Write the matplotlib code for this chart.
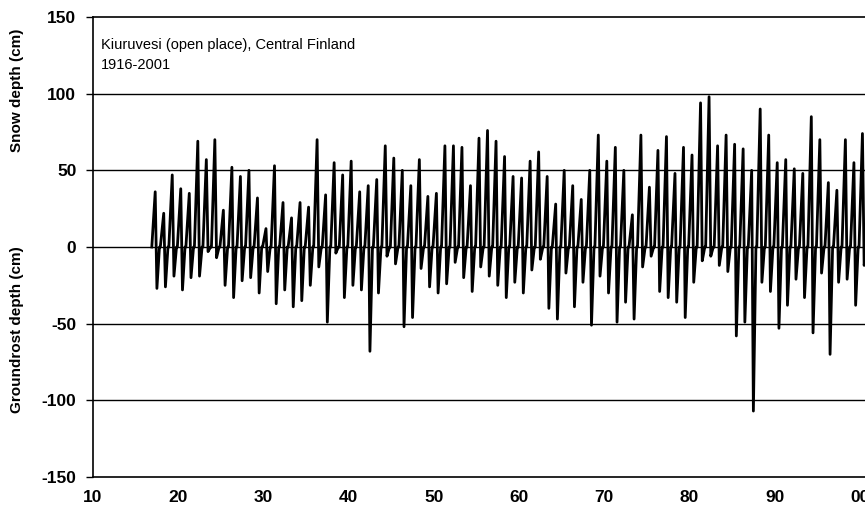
import matplotlib
matplotlib.use("Agg")
import matplotlib.pyplot as plt
import numpy as np

plt.rcParams['font.family'] = ['Liberation Sans', 'DejaVu Sans']
plt.rcParams['axes.unicode_minus'] = False

# winters 1916/17 ... 1999/2000, plotted at the spring year (two-digit axis, 100 = 2000)
years = list(range(17, 101))

# annual maximum snow depth (cm)
snow = [36, 22, 47, 38, 35, 69, 57, 70, 24, 52,
        46, 50, 32, 12, 53, 29, 19, 29, 26, 70,
        34, 55, 47, 56, 36, 40, 44, 66, 58, 50,
        40, 57, 33, 35, 66, 66, 65, 40, 71, 76,
        69, 59, 46, 45, 56, 62, 46, 28, 50, 40,
        31, 50, 73, 56, 65, 50, 21, 73, 39, 63,
        72, 48, 65, 60, 94, 98, 66, 73, 67, 64,
        50, 90, 73, 55, 57, 51, 48, 85, 70, 42,
        37, 70, 55, 74]

# annual maximum ground frost depth (cm)
frost = [27, 26, 19, 28, 20, 19, 3, 7, 25, 33,
         22, 20, 30, 16, 37, 28, 39, 35, 25, 13,
         49, 4, 33, 25, 28, 68, 30, 6, 11, 52,
         46, 14, 26, 30, 24, 10, 20, 29, 13, 19,
         25, 33, 23, 30, 15, 8, 40, 47, 17, 39,
         23, 51, 19, 30, 49, 36, 47, 13, 6, 29,
         33, 36, 46, 23, 9, 6, 12, 16, 58, 49,
         107, 23, 29, 53, 38, 21, 33, 56, 17, 70,
         23, 21, 38, 12]

# one season = rise to the snow maximum, drop to the frost maximum, back to zero
xs, ys = [], []
for yr, s, f in zip(years, snow, frost):
    xs += [yr - 0.1, yr + 0.3, yr + 0.5, yr + 0.8]
    ys += [0, s, -f, 0]

fig = plt.figure(figsize=(8.65, 5.13), dpi=100)
ax = fig.add_axes([93 / 865, 36 / 513, 772 / 865, 460 / 513])

for v in [-100, -50, 0, 50, 100]:
    ax.axhline(v, color='black', lw=1.0, zorder=1)

ax.plot(xs, ys, color='black', lw=2.0, solid_joinstyle='round', zorder=2)

ax.set_xlim(10, 100.6)
ax.set_ylim(-150, 150)
ax.set_xticks([10, 20, 30, 40, 50, 60, 70, 80, 90, 100])
ax.set_xticklabels(['10', '20', '30', '40', '50', '60', '70', '80', '90', '00'])
ax.set_yticks([-150, -100, -50, 0, 50, 100, 150])
ax.tick_params(axis='x', length=0, pad=9, labelsize=12.5)
ax.tick_params(axis='y', length=5, width=1, direction='out', pad=7, labelsize=12.5)
for lab in ax.get_xticklabels() + ax.get_yticklabels():
    lab.set_fontweight('bold')

for side in ['left', 'bottom', 'top']:
    ax.spines[side].set_color('black')
    ax.spines[side].set_linewidth(1.2)
ax.spines['right'].set_visible(False)

ax.text(0.01, 0.955, 'Kiuruvesi (open place), Central Finland', transform=ax.transAxes,
        fontsize=10.5, va='top', ha='left')
ax.text(0.01, 0.91, '1916-2001', transform=ax.transAxes,
        fontsize=10.5, va='top', ha='left')

fig.text(17 / 865, 1 - 90 / 513, 'Snow depth (cm)', rotation=90, ha='center', va='center',
         fontsize=11, fontweight='bold')
fig.text(17 / 865, 1 - 330 / 513, 'Groundrost depth (cm)', rotation=90, ha='center',
         va='center', fontsize=11, fontweight='bold')

fig.savefig('out.png', dpi=100)
